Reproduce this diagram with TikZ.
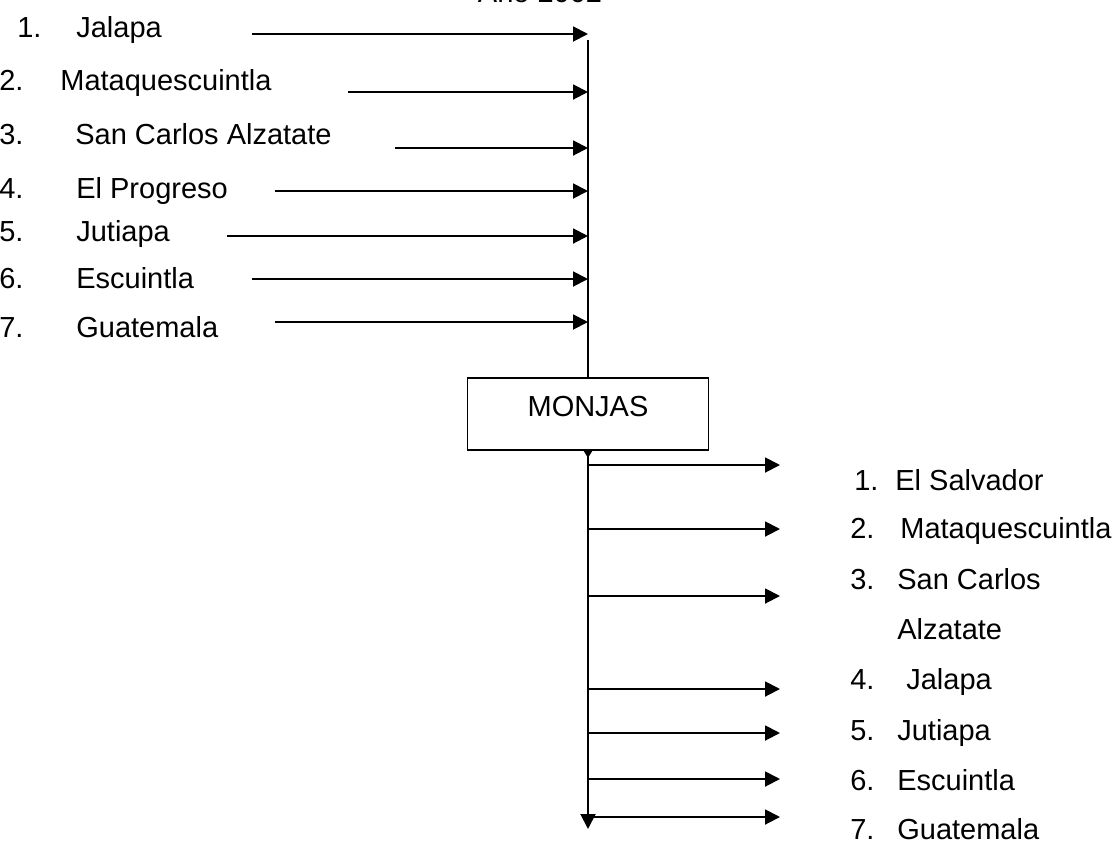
\documentclass[tikz,border=0pt]{standalone}
\usepackage{fontspec}
\setmainfont{Liberation Sans}
\usetikzlibrary{arrows.meta}

\tikzset{
  lbl/.style={anchor=base west,inner sep=0pt,font=\fontsize{16.5}{20}\selectfont},
  line/.style={line width=1.1pt},
  arr/.style={line width=1.1pt,-{Triangle[length=0.3cm,width=0.3cm]}},
  smalltip/.style={line width=1.1pt,-{Triangle[length=0.14cm,width=0.16cm]}},
  box/.style={draw,line width=1.1pt,minimum width=4.82cm,minimum height=1.44cm,
    text height=0.42cm,text depth=0.32cm,inner sep=0pt,font=\fontsize{16.5}{20}\selectfont}
}

\begin{document}
\begin{tikzpicture}[x=0.02cm,y=-0.02cm]
        \useasboundingbox (0,0) rectangle (1119,846);

        \node[anchor=base,inner sep=0pt,font=\fontsize{16.5}{20}\selectfont] (year) at (540,2) {Año 2002};

        % origen
        \begin{scope}[every node/.style={lbl}]
          \node (n1) at (17,37)  {1.};  \node (a1) at (76,37)  {Jalapa};
          \node (n2) at (-1,90)  {2.};  \node (a2) at (60,90)  {Mataquescuintla};
          \node (n3) at (-1,144) {3.};  \node (a3) at (75,144) {San Carlos Alzatate};
          \node (n4) at (-1,198) {4.};  \node (a4) at (76,198) {El Progreso};
          \node (n5) at (-1,241) {5.};  \node (a5) at (76,241) {Jutiapa};
          \node (n6) at (-1,288) {6.};  \node (a6) at (76,288) {Escuintla};
          \node (n7) at (-1,337) {7.};  \node (a7) at (76,337) {Guatemala};
        \end{scope}

        \node[box] (monjas) at (588,414) {MONJAS};

        \coordinate (top) at (588,40);
        \coordinate (tip) at (588,458);
        \coordinate (bot) at (588,829);

        \coordinate (i1) at (252,34);
        \coordinate (i2) at (348,92);
        \coordinate (i3) at (395,148);
        \coordinate (i4) at (275,191);
        \coordinate (i5) at (227,236);
        \coordinate (i6) at (252,279);
        \coordinate (i7) at (275,322);

        \draw[line] (top) -- (monjas.north);
        \draw[arr] (i1) -- (i1 -| top);
        \draw[arr] (i2) -- (i2 -| top);
        \draw[arr] (i3) -- (i3 -| top);
        \draw[arr] (i4) -- (i4 -| top);
        \draw[arr] (i5) -- (i5 -| top);
        \draw[arr] (i6) -- (i6 -| top);
        \draw[arr] (i7) -- (i7 -| top);

        % destino
        \coordinate (o1) at (780,465);
        \coordinate (o2) at (780,529);
        \coordinate (o3) at (780,596);
        \coordinate (o4) at (780,689);
        \coordinate (o5) at (780,733);
        \coordinate (o6) at (780,779);
        \coordinate (o7) at (780,817);

        \draw[smalltip] (monjas.south) -- (tip);
        \draw[arr] (monjas.south) -- (bot);
        \draw[arr] (o1 -| bot) -- (o1);
        \draw[arr] (o2 -| bot) -- (o2);
        \draw[arr] (o3 -| bot) -- (o3);
        \draw[arr] (o4 -| bot) -- (o4);
        \draw[arr] (o5 -| bot) -- (o5);
        \draw[arr] (o6 -| bot) -- (o6);
        \draw[arr] (o7 -| bot) -- (o7);

        \begin{scope}[every node/.style={lbl}]
          \node (m1) at (854,490) {1.};  \node (b1) at (895,490) {El Salvador};
          \node (m2) at (850,538) {2.};  \node (b2) at (900,538) {Mataquescuintla};
          \node (m3) at (850,589) {3.};  \node (b3) at (897,589) {San Carlos};
                                         \node (c3) at (897,639) {Alzatate};
          \node (m4) at (850,689) {4.};  \node (b4) at (906,689) {Jalapa};
          \node (m5) at (850,740) {5.};  \node (b5) at (897,740) {Jutiapa};
          \node (m6) at (850,790) {6.};  \node (b6) at (897,790) {Escuintla};
          \node (m7) at (850,839) {7.};  \node (b7) at (897,839) {Guatemala};
        \end{scope}

      \end{tikzpicture}
\end{document}
